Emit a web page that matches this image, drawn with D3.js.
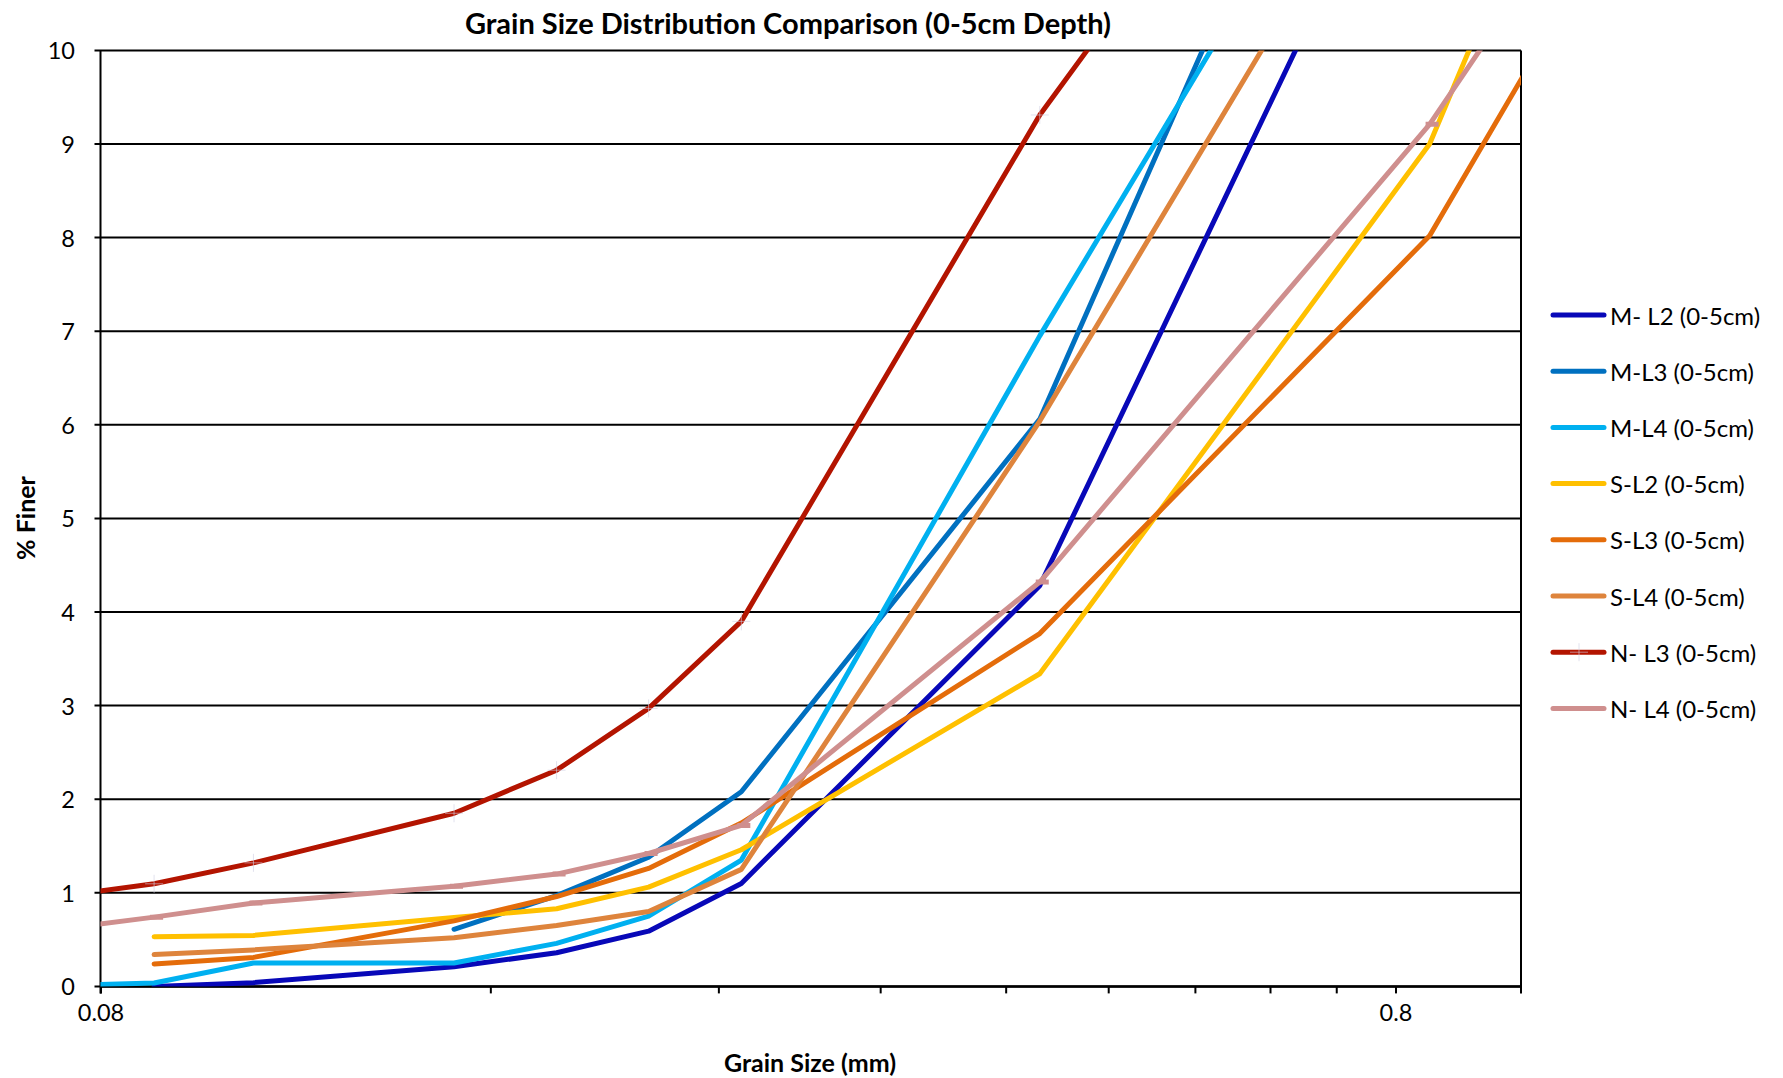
<!DOCTYPE html>
<html>
<head>
<meta charset="utf-8">
<script src="https://cdn.jsdelivr.net/npm/d3@7"></script>
<style>
  html, body { margin: 0; padding: 0; background: #fff; }
  svg { display: block; font-family: Lato, "Open Sans", sans-serif; }
</style>
</head>
<body>
<svg id="chart" width="1783" height="1078"></svg>
<script>
// Sieve openings (mm)
const grainSizes = [0.075, 0.088, 0.105, 0.15, 0.18, 0.212, 0.25, 0.425, 0.85, 2.0];

// Percent finer at each sieve, 0-5 cm samples (null = not tested)
const mL2 = [null, 0.00, 0.04, 0.21, 0.36, 0.59, 1.10, 4.28, 13.0, null];
const mL3 = [null, null, null, 0.61, 0.97, 1.38, 2.08, 6.06, 15.5, null];
const mL4 = [0.01, 0.036, 0.25, 0.25, 0.46, 0.75, 1.35, 6.95, 13.9, null];
const sL2 = [null, 0.53, 0.545, 0.735, 0.83, 1.06, 1.46, 3.34, 9.0, 21.2];
const sL3 = [null, 0.24, 0.31, 0.70, 0.96, 1.26, 1.745, 3.77, 8.02, 16.8];
const sL4 = [null, 0.34, 0.39, 0.52, 0.65, 0.80, 1.25, 6.04, 13.0, null];
const nL3 = [0.97, 1.096, 1.32, 1.85, 2.31, 2.97, 3.90, 9.31, 15.0, null];
const nL4 = [0.62, 0.74, 0.89, 1.07, 1.20, 1.42, 1.72, 4.32, 9.21, 16.8];

const seriesNames = ["M- L2 (0-5cm)", "M-L3 (0-5cm)", "M-L4 (0-5cm)", "S-L2 (0-5cm)",
                     "S-L3 (0-5cm)", "S-L4 (0-5cm)", "N- L3 (0-5cm)", "N- L4 (0-5cm)"];
const seriesValues = [mL2, mL3, mL4, sL2, sL3, sL4, nL3, nL4];
const seriesColors = ["#0808B8", "#0070C0", "#00B0F0", "#FFC000",
                      "#E46C0A", "#DE843C", "#B31400", "#CF8F8E"];

const yTicks = [0, 1, 2, 3, 4, 5, 6, 7, 8, 9, 10];
const xMajorTicks = [0.08, 0.8];
const xMinorTicks = [0.16, 0.24, 0.32, 0.4, 0.48, 0.56, 0.64, 0.72];

const title = "Grain Size Distribution Comparison (0-5cm Depth)";
const xTitle = "Grain Size (mm)";
const yTitle = "% Finer";

const plot = { left: 100.5, right: 1521, top: 50.4, bottom: 986.4 };

const svg = d3.select("#chart");

const x = d3.scaleLog().domain([0.08, 1.0]).range([plot.left, plot.right]);
const y = d3.scaleLinear().domain([0, 10]).range([plot.bottom, plot.top]);

svg.append("defs").append("clipPath").attr("id", "plotClip")
  .append("rect")
  .attr("x", plot.left).attr("y", plot.top)
  .attr("width", plot.right - plot.left).attr("height", plot.bottom - plot.top);

// Horizontal gridlines (extend slightly left as tick marks)
svg.append("g").selectAll("line").data(yTicks).join("line")
  .attr("x1", plot.left - 6).attr("x2", plot.right)
  .attr("y1", d => y(d)).attr("y2", d => y(d))
  .attr("stroke", "#000").attr("stroke-width", 2);

// Y tick labels
svg.append("g").selectAll("text").data(yTicks).join("text")
  .attr("x", 75).attr("y", d => y(d))
  .attr("text-anchor", "end").attr("dominant-baseline", "central")
  .attr("font-size", 23.5).attr("fill", "#000")
  .text(d => d);

// X axis with log ticks
const xAxis = d3.axisBottom(x)
  .tickValues(xMajorTicks.concat(xMinorTicks))
  .tickSize(7)
  .tickFormat(d => xMajorTicks.includes(d) ? String(d) : "");
const gx = svg.append("g").attr("transform", `translate(0,${plot.bottom})`).call(xAxis);
gx.select(".domain").remove();
gx.selectAll(".tick line").attr("stroke", "#000").attr("stroke-width", 2);
gx.selectAll(".tick text").attr("font-size", 23.5).attr("fill", "#000")
  .attr("font-family", "Lato, 'Open Sans', sans-serif")
  .attr("y", 26).attr("dy", "0.35em");

// Axis frame: left, bottom, right
svg.append("line").attr("x1", plot.left).attr("x2", plot.left)
  .attr("y1", plot.top).attr("y2", plot.bottom + 7)
  .attr("stroke", "#000").attr("stroke-width", 2);
svg.append("line").attr("x1", plot.left).attr("x2", plot.right)
  .attr("y1", plot.bottom).attr("y2", plot.bottom)
  .attr("stroke", "#000").attr("stroke-width", 2.5);
svg.append("line").attr("x1", plot.right).attr("x2", plot.right)
  .attr("y1", plot.top).attr("y2", plot.bottom + 7)
  .attr("stroke", "#000").attr("stroke-width", 2);

// Series lines
const line = d3.line()
  .defined(d => d.v != null)
  .x(d => x(d.size))
  .y(d => y(d.v));

const lines = svg.append("g").attr("clip-path", "url(#plotClip)");
seriesValues.forEach((vals, i) => {
  const pts = grainSizes.map((s, j) => ({ size: s, v: vals[j] }));
  lines.append("path")
    .datum(pts)
    .attr("fill", "none")
    .attr("stroke", seriesColors[i])
    .attr("stroke-width", 5)
    .attr("stroke-linejoin", "round")
    .attr("stroke-linecap", i === 7 ? "butt" : "round")
    .attr("d", line);

  // Point markers for the N-series
  const marked = pts.filter(d => d.v != null);
  if (i === 6) {
    const m = lines.append("g").selectAll("g").data(marked).join("g")
      .attr("transform", d => `translate(${x(d.size)},${y(d.v)})`);
    m.append("line").attr("x1", -9).attr("x2", 9)
      .attr("stroke", "#D0D0E4").attr("stroke-width", 1).attr("opacity", 0.6);
    m.append("line").attr("y1", -9).attr("y2", 9)
      .attr("stroke", "#D0D0E4").attr("stroke-width", 1).attr("opacity", 0.6);
  }
  if (i === 7) {
    lines.append("g").selectAll("line").data(marked).join("line")
      .attr("x1", d => x(d.size) - 4).attr("x2", d => x(d.size) + 9)
      .attr("y1", d => y(d.v)).attr("y2", d => y(d.v))
      .attr("stroke", seriesColors[i]).attr("stroke-width", 5);
  }
});

// Legend
const legend = svg.append("g");
seriesNames.forEach((name, i) => {
  const ly = 315 + i * 56.2;
  legend.append("line")
    .attr("x1", 1553).attr("x2", 1604).attr("y1", ly).attr("y2", ly)
    .attr("stroke", seriesColors[i]).attr("stroke-width", 5)
    .attr("stroke-linecap", "round");
  if (i === 6) {
    legend.append("line").attr("x1", 1570).attr("x2", 1588).attr("y1", ly).attr("y2", ly)
      .attr("stroke", "#D0D0E4").attr("stroke-width", 1).attr("opacity", 0.6);
    legend.append("line").attr("x1", 1579).attr("x2", 1579).attr("y1", ly - 9).attr("y2", ly + 9)
      .attr("stroke", "#D0D0E4").attr("stroke-width", 1).attr("opacity", 0.6);
  }
  legend.append("text")
    .attr("x", 1610).attr("y", ly)
    .attr("dominant-baseline", "central")
    .attr("font-size", 24).attr("fill", "#000")
    .text(name);
});

// Titles
svg.append("text")
  .attr("x", 788).attr("y", 22)
  .attr("text-anchor", "middle").attr("dominant-baseline", "central")
  .attr("font-size", 29).attr("font-weight", "bold").attr("fill", "#000")
  .text(title);

svg.append("text")
  .attr("x", 810).attr("y", 1062)
  .attr("text-anchor", "middle").attr("dominant-baseline", "central")
  .attr("font-size", 25).attr("font-weight", "bold").attr("fill", "#000")
  .text(xTitle);

svg.append("text")
  .attr("transform", "translate(25,518) rotate(-90)")
  .attr("text-anchor", "middle").attr("dominant-baseline", "central")
  .attr("font-size", 25).attr("font-weight", "bold").attr("fill", "#000")
  .text(yTitle);
</script>
</body>
</html>
